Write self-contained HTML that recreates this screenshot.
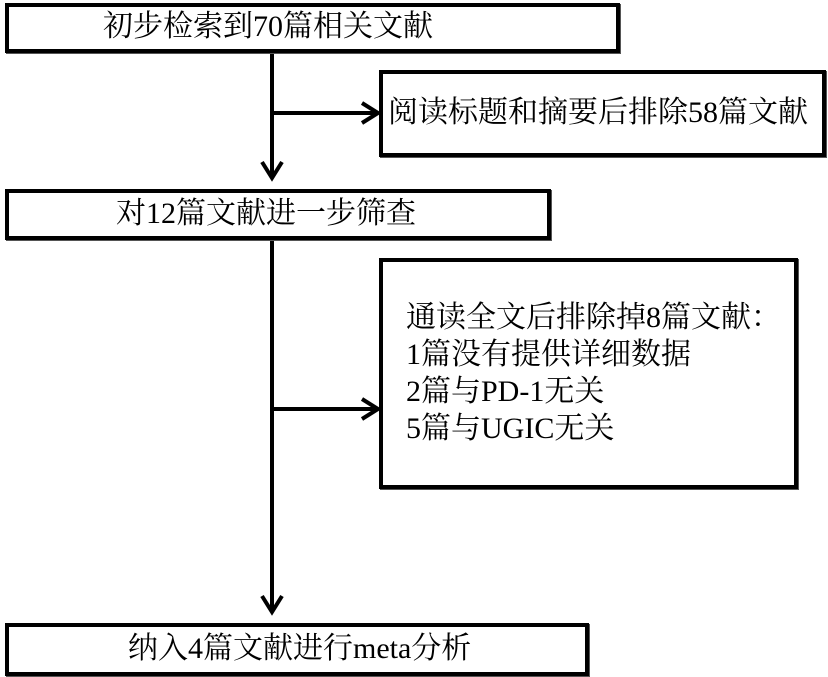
<!DOCTYPE html>
<html><head><meta charset="utf-8"><style>
body{margin:0;width:828px;height:677px;background:#fff;position:relative;overflow:hidden;font-family:"Liberation Serif","Noto Serif CJK SC",serif;}
.b{position:absolute;border:4px solid #000;box-sizing:border-box;box-shadow:1px 1px 0 #555;}
.t{position:absolute;font-size:30px;line-height:37px;white-space:nowrap;color:#000;}
</style></head><body>
<svg width="828" height="677" style="position:absolute;left:0;top:0">
<g stroke="#000" stroke-width="4" fill="none">
<line x1="272" y1="52" x2="272" y2="178"/>
<polyline points="262,162 272,178 282,162"/>
<line x1="272" y1="113" x2="376" y2="113"/>
<polyline points="362,103 378,113 362,123"/>
<line x1="272" y1="240" x2="272" y2="612"/>
<polyline points="262,596 272,612 282,596"/>
<line x1="272" y1="409" x2="376" y2="409"/>
<polyline points="362,399 378,409 362,419"/>
</g>
</svg>
<div class="b" style="left:5px;top:3px;width:615px;height:50px"></div>
<div class="t" style="left:103px;top:8px">初步检索到70篇相关文献</div>
<div class="b" style="left:379px;top:70px;width:447px;height:87px"></div>
<div class="t" style="left:388px;top:94px">阅读标题和摘要后排除58篇文献</div>
<div class="b" style="left:5px;top:189px;width:546px;height:51px"></div>
<div class="t" style="left:116px;top:195px">对12篇文献进一步筛查</div>
<div class="b" style="left:379px;top:258px;width:419px;height:231px"></div>
<div class="t" style="left:406px;top:299px">通读全文后排除掉8篇文献：<br>1篇没有提供详细数据<br>2篇与PD-1无关<br>5篇与UGIC无关</div>
<div class="b" style="left:5px;top:623px;width:584px;height:53px"></div>
<div class="t" style="left:128px;top:630px">纳入4篇文献进行meta分析</div>
</body></html>
